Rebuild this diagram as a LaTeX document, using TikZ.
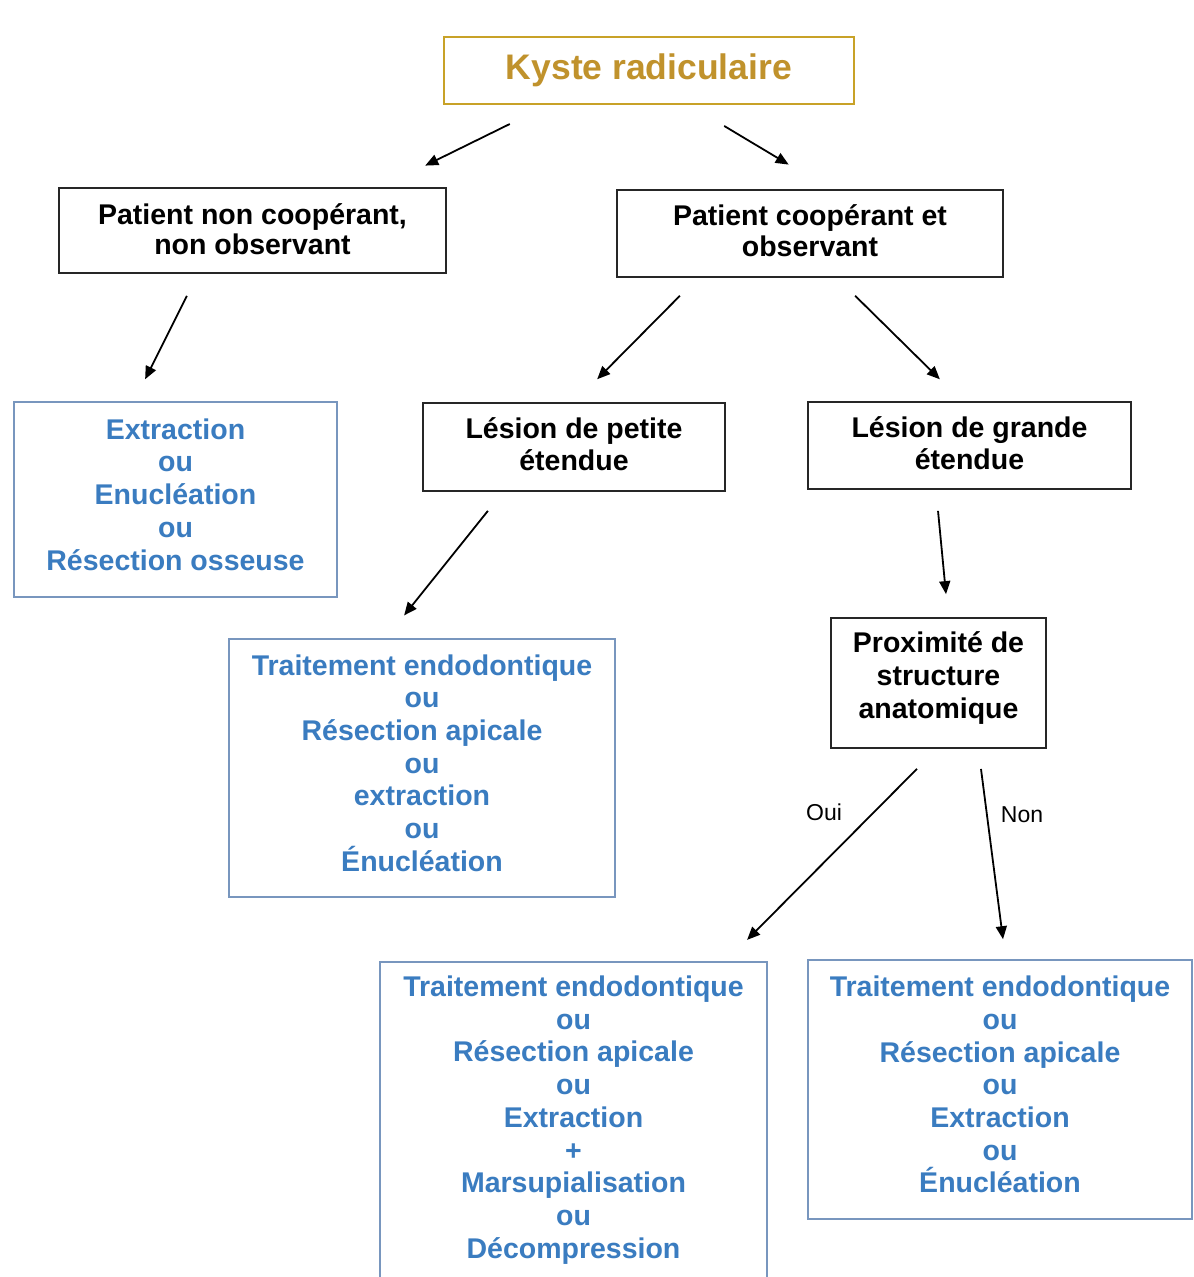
\documentclass[tikz,border=0pt]{standalone}
\usepackage{fontspec}
\setmainfont{Liberation Sans}
\usetikzlibrary{arrows.meta}
\definecolor{goldt}{RGB}{192,146,44}
\definecolor{goldb}{RGB}{200,162,40}
\definecolor{bluet}{RGB}{58,124,192}
\definecolor{blueb}{RGB}{120,150,190}
\begin{document}
\begin{tikzpicture}[x=1pt,y=-1pt,
  blk/.style={draw=black!85, line width=1.8pt, inner sep=0pt},
  ktext/.style={align=center, inner sep=0pt, font=\fontsize{28.5}{31}\selectfont\bfseries},
  blu/.style={draw=blueb, line width=1.5pt, inner sep=0pt},
  btext/.style={align=center, inner sep=0pt, text=bluet, font=\fontsize{28.5}{32.7}\selectfont\bfseries},
  goldbox/.style={draw=goldb, line width=2.8pt, align=center, inner sep=0pt, text=goldt,
    font=\fontsize{35.5}{40}\selectfont\bfseries},
  arr/.style={-{Triangle[length=13pt,width=11pt]}, line width=1.8pt},
  lbl/.style={font=\fontsize{23}{26}\selectfont}]
\clip (0,0) rectangle (1194,1277);
\fill[white] (0,0) rectangle (1194,1277);

\node[goldbox, minimum width=410, minimum height=67] (kyste) at (649,70.5) {Kyste radiculaire};
\node[blk, minimum width=387, minimum height=85,
  label={[ktext, font=\fontsize{28.5}{30}\selectfont\bfseries, yshift=1pt]center:{Patient non coopérant,\\ non observant}}] (pnon) at (252.5,230.5) {};
\node[blk, minimum width=386, minimum height=87,
  label={[ktext, yshift=3pt]center:{Patient coopérant et\\ observant}}] (pcoop) at (810,233.5) {};
\node[blu, minimum width=323, minimum height=195,
  label={[btext, yshift=5pt]center:{Extraction\\ ou\\ Enucléation\\ ou\\ Résection osseuse}}] (ext) at (175.5,499.5) {};
\node[blk, minimum width=302, minimum height=88,
  label={[ktext, font=\fontsize{28.5}{32}\selectfont\bfseries, yshift=3pt]center:{Lésion de petite\\ étendue}}] (petite) at (574,447) {};
\node[blk, minimum width=323, minimum height=87,
  label={[ktext, font=\fontsize{28.5}{32}\selectfont\bfseries, yshift=2pt]center:{Lésion de grande\\ étendue}}] (grande) at (969.5,445.5) {};
\node[blu, minimum width=386, minimum height=258,
  label={[btext, yshift=5pt]center:{Traitement endodontique\\ ou\\ Résection apicale\\ ou\\ extraction\\ ou\\ Énucléation}}] (trait) at (422,768) {};
\node[blk, minimum width=215, minimum height=130,
  label={[ktext, font=\fontsize{28.5}{33}\selectfont\bfseries, yshift=5pt]center:{Proximité de\\ structure\\ anatomique}}] (prox) at (938.5,683) {};
\node[minimum width=387, minimum height=309, inner sep=0pt,
  label={[btext, yshift=-3.5pt]center:{Traitement endodontique\\ ou\\ Résection apicale\\ ou\\ Extraction\\ +\\ Marsupialisation\\ ou\\ Décompression}}] (bl) at (573.5,1116.5) {};
\draw[blu] (bl.south west |- 0,1300) -- (bl.north west) -- (bl.north east) -- (bl.south east |- 0,1300);
\node[blu, minimum width=384, minimum height=259,
  label={[btext, yshift=5pt]center:{Traitement endodontique\\ ou\\ Résection apicale\\ ou\\ Extraction\\ ou\\ Énucléation}}] (br) at (1000,1089.5) {};

\draw[arr, shorten <=42.1pt, shorten >=48.7pt] ([xshift=-101.4pt]kyste.south) -- ([xshift=129pt]pnon.north);
\draw[arr, shorten <=40pt, shorten >=47.7pt] ([xshift=40.9pt]kyste.south) -- ([xshift=19.6pt]pcoop.north);
\draw[arr, shorten <=24.6pt, shorten >=24.6pt] ([xshift=-54.6pt]pnon.south) -- ([xshift=-41.4pt]ext.north);
\draw[arr, shorten <=25.2pt, shorten >=32.2pt] ([xshift=-112.4pt]pcoop.south) -- ([xshift=0.5pt]petite.north);
\draw[arr, shorten <=25.5pt, shorten >=31.1pt] ([xshift=27pt]pcoop.south) -- ([xshift=-7.5pt]grande.north);
\draw[arr, shorten <=24.3pt, shorten >=29.3pt] ([xshift=-70.9pt]petite.south) -- ([xshift=-36.2pt]trait.north);
\draw[arr, shorten <=21.1pt, shorten >=23.1pt] ([xshift=-33.5pt]grande.south) -- ([xshift=9.7pt]prox.north);
\draw[arr, shorten <=28.1pt, shorten >=30.9pt] ([xshift=-1.7pt]prox.south) -- ([xshift=151.8pt]bl.north);
\draw[arr, shorten <=20.2pt, shorten >=20.2pt] ([xshift=39.9pt]prox.south) -- ([xshift=5.6pt]br.north);

\node[lbl] (oui) at (824,812) {Oui};
\node[lbl] (non) at (1022,815) {Non};
\end{tikzpicture}
\end{document}
